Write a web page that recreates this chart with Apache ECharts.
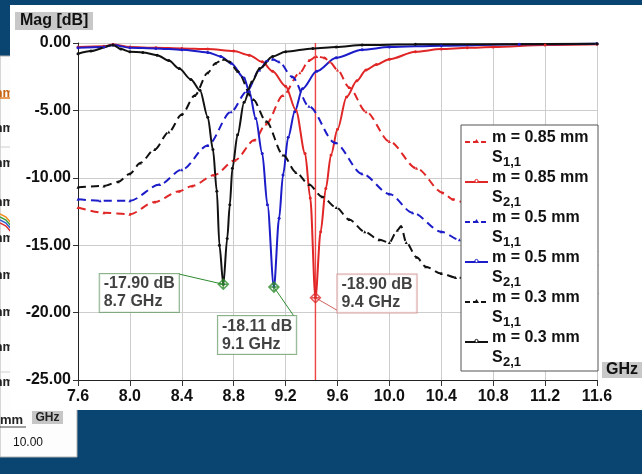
<!DOCTYPE html>
<html><head><meta charset="utf-8">
<script src="https://cdn.jsdelivr.net/npm/echarts@6/dist/echarts.min.js"></script>
<style>html,body{margin:0;padding:0;background:#0a4571;}#c{width:642px;height:474px;}</style>
</head><body><div id="c"></div>
<script>
// ---- data: [GHz, dB] ----
const s11_085 = [[7.6,-12.2],[7.8,-12.6],[8.0,-12.7],[8.19,-11.8],[8.38,-11.0],[8.48,-10.6],[8.65,-9.8],[8.81,-8.7],[8.96,-7.2],[9.05,-6.0],[9.18,-3.9],[9.31,-2.2],[9.38,-1.3],[9.44,-1.0],[9.5,-1.1],[9.54,-1.4],[9.6,-2.0],[9.69,-3.3],[9.82,-5.1],[10.0,-7.3],[10.21,-9.3],[10.41,-11.1],[10.49,-11.6],[10.8,-13.2],[11.2,-14.6],[11.6,-15.4]];
const s21_085 = [[7.6,-0.3],[7.8,-0.25],[7.87,-0.12],[8.0,-0.3],[8.2,-0.35],[8.4,-0.4],[8.6,-0.45],[8.8,-0.6],[8.92,-0.9],[9.02,-1.4],[9.1,-2.1],[9.2,-3.2],[9.28,-5.0],[9.35,-8.2],[9.39,-11.5],[9.43,-18.9],[9.47,-14.0],[9.51,-10.8],[9.55,-8.3],[9.6,-6.4],[9.67,-4.0],[9.75,-2.8],[9.82,-2.0],[9.9,-1.6],[10.0,-1.2],[10.2,-0.65],[10.4,-0.45],[10.6,-0.35],[10.8,-0.3],[11.2,-0.15],[11.6,-0.1]];
const s11_05 = [[7.6,-11.6],[7.77,-11.7],[8.0,-11.7],[8.23,-10.5],[8.4,-9.4],[8.6,-7.6],[8.78,-5.1],[8.9,-3.6],[9.0,-2.0],[9.06,-1.3],[9.1,-1.2],[9.15,-1.4],[9.25,-2.5],[9.38,-4.7],[9.58,-7.4],[9.79,-9.7],[10.0,-11.2],[10.18,-12.6],[10.4,-14.0],[10.54,-14.6],[11.0,-15.6],[11.6,-16.4]];
const s21_05 = [[7.6,-0.35],[7.8,-0.3],[7.87,-0.15],[8.0,-0.35],[8.2,-0.4],[8.4,-0.5],[8.6,-0.7],[8.7,-1.0],[8.78,-1.5],[8.88,-2.6],[8.92,-3.6],[8.97,-5.6],[9.02,-8.2],[9.06,-12.0],[9.11,-18.11],[9.15,-13.0],[9.18,-9.8],[9.22,-7.0],[9.27,-5.1],[9.33,-3.4],[9.44,-2.1],[9.59,-1.1],[9.79,-0.5],[10.0,-0.3],[10.4,-0.2],[11.0,-0.1],[11.6,-0.05]];
const s11_03 = [[7.6,-10.7],[7.8,-10.6],[7.91,-10.3],[8.0,-9.7],[8.08,-8.9],[8.19,-7.9],[8.3,-6.6],[8.4,-5.3],[8.5,-3.9],[8.6,-2.2],[8.66,-1.5],[8.72,-1.2],[8.77,-1.4],[8.83,-2.1],[8.95,-4.2],[9.05,-5.8],[9.18,-8.3],[9.28,-9.6],[9.38,-10.5],[9.48,-11.4],[9.59,-12.2],[9.69,-13.1],[9.81,-14.0],[9.92,-14.6],[10.0,-14.8],[10.06,-13.9],[10.09,-13.6],[10.13,-14.8],[10.21,-15.9],[10.28,-16.6],[10.4,-17.1],[10.51,-17.4],[11.0,-18.0],[11.6,-18.5]];
const s21_03 = [[7.6,-0.8],[7.7,-0.6],[7.87,-0.15],[7.93,-0.45],[8.0,-0.65],[8.1,-0.7],[8.21,-0.9],[8.3,-1.3],[8.38,-1.9],[8.47,-2.7],[8.54,-3.5],[8.6,-5.5],[8.64,-7.9],[8.67,-11.0],[8.69,-15.0],[8.72,-17.9],[8.75,-14.5],[8.77,-12.0],[8.79,-9.3],[8.83,-6.8],[8.88,-4.4],[8.94,-2.9],[9.0,-1.9],[9.1,-1.0],[9.2,-0.65],[9.41,-0.4],[9.59,-0.3],[9.79,-0.15],[10.2,-0.1],[11.6,-0.05]];
const markerPts = [[8.72,-17.90],[9.11,-18.11],[9.43,-18.90]];
const markerText = ['-17.90 dB\n8.7 GHz','-18.11 dB\n9.1 GHz','-18.90 dB\n9.4 GHz'];
const cursorLine = [[9.43,0],[9.43,-25]];
const legendNames = ['m = 0.85 mm','m = 0.85 mm','m = 0.5 mm','m = 0.5 mm','m = 0.3 mm','m = 0.3 mm'];
const legendSubs = ['1,1','2,1','1,1','2,1','1,1','2,1'];
const leftRows = [93,128,163,202,238,275,312,347,382];

const RED='#e02626', BLUE='#1c1cc8', BLACK='#111111', GREEN='#2e8b2e';
const FONT="'Liberation Sans', Arial, sans-serif";
const colors=[RED,RED,BLUE,BLUE,BLACK,BLACK];
const dashed=[true,false,true,false,true,false];
const seriesData=[s11_085,s21_085,s11_05,s21_05,s11_03,s21_03];

function ser(i){
  const c=colors[i], d=dashed[i];
  return {type:'line',data:seriesData[i],smooth:0.3,smoothMonotone:'x',
    symbol:d?'triangle':'circle',symbolSize:3,showSymbol:true,
    itemStyle:{color:c},lineStyle:{color:c,width:2,type:d?[8,5]:'solid'},z:3,silent:true};
}
const boxOff=[[-123.6,8.7],[-56,48],[22,-4.3]];
const boxBorder=['#6f9f6f','#6f9f6f','#d08a8a'];
const mkColor=[GREEN,GREEN,'#e03030'];

const chart=echarts.init(document.getElementById('c'),null,{renderer:'canvas'});
const series=[{type:'line',data:cursorLine,symbol:'none',silent:true,z:2,
  itemStyle:{color:'#f03030'},lineStyle:{color:'#f03030',width:1.4,opacity:0.9}}];
[0,1,2,3,4,5].forEach(i=>series.push(ser(i)));
series.push({type:'scatter',silent:true,z:5,
  symbol:'path://M5,0L10,5L5,10L0,5Z M5,0L5,10 M0,5L10,5',symbolSize:10,
  data:markerPts.map((p,i)=>({value:p,
    itemStyle:{color:'rgba(0,0,0,0)',borderColor:mkColor[i],borderWidth:1.5},
    label:{show:true,position:'inside',align:'left',verticalAlign:'middle',offset:boxOff[i],
      formatter:markerText[i],fontSize:16,fontWeight:'bold',fontFamily:FONT,color:'#111',
      lineHeight:18,backgroundColor:'#fff',borderColor:boxBorder[i],borderWidth:1,padding:[1,4,1,4]}}))
});

const g=[];
g.push({type:'rect',z:-30,shape:{x:0,y:56,width:77,height:401},style:{fill:'#fdfdfd',stroke:'#b0b0b0',lineWidth:1}});
leftRows.forEach((y,i)=>{
  g.push({type:'text',z:-29,x:14,y:y,style:{text:'mm',font:'bold 13px '+FONT,fill:i===0?'#c86414':'#222',align:'right',verticalAlign:'middle'}});
});
g.push({type:'line',z:-29,shape:{x1:0,y1:98,x2:12,y2:98},style:{stroke:'#e07820',lineWidth:1.5}});
g.push({type:'line',z:-29,shape:{x1:0,y1:147,x2:12,y2:147},style:{stroke:'#cfcfcf',lineWidth:1}});
g.push({type:'line',z:-29,shape:{x1:0,y1:372,x2:12,y2:372},style:{stroke:'#cfcfcf',lineWidth:1}});
['#f08a20','#3aa03a','#2c5cd0','#e03030'].forEach((c,i)=>{
  g.push({type:'polyline',z:-29,shape:{points:[[0,214+i*3],[6,217+i*3],[12,224+i*3]]},style:{stroke:c,lineWidth:1.5,fill:null}});
});
g.push({type:'text',z:-29,x:0,y:420,style:{text:'mm',font:'bold 13px '+FONT,fill:'#222',verticalAlign:'middle'}});
g.push({type:'line',z:-29,shape:{x1:0,y1:427,x2:26,y2:427},style:{stroke:'#444',lineWidth:1}});
g.push({type:'rect',z:-29,shape:{x:32,y:411,width:31,height:13},style:{fill:'#c6c6c6'}});
g.push({type:'text',z:-28,x:47.5,y:417.5,style:{text:'GHz',font:'bold 12px '+FONT,fill:'#222',align:'center',verticalAlign:'middle'}});
g.push({type:'text',z:-29,x:13,y:443,style:{text:'10.00',font:'12px '+FONT,fill:'#111',verticalAlign:'middle'}});
g.push({type:'rect',z:-20,shape:{x:10,y:5,width:632,height:405},style:{fill:'#ffffff'}});
g.push({type:'rect',z:-19,shape:{x:15,y:12,width:78,height:18},style:{fill:'#c8c8c8'}});
g.push({type:'text',z:-18,x:20,y:21,style:{text:'Mag [dB]',font:'bold 16px '+FONT,fill:'#111',verticalAlign:'middle'}});
g.push({type:'rect',z:-19,shape:{x:602,y:362,width:40,height:16},style:{fill:'#c8c8c8'}});
g.push({type:'text',z:-18,x:606,y:370,style:{text:'GHz',font:'bold 16px '+FONT,fill:'#111',verticalAlign:'middle'}});
g.push({type:'rect',z:50,shape:{x:461,y:125,width:137,height:246},style:{fill:'#fff',stroke:'#555',lineWidth:1}});
legendNames.forEach((nm,i)=>{
  const y0=138+40*i, c=colors[i];
  g.push({type:'line',z:51,shape:{x1:465,y1:y0+4,x2:488,y2:y0+4},style:{stroke:c,lineWidth:2,lineDash:dashed[i]?[5,3]:null}});
  if(dashed[i]) g.push({type:'polygon',z:52,shape:{points:[[476.5,y0+1],[479,y0+5],[474,y0+5]]},style:{fill:c}});
  else g.push({type:'circle',z:52,shape:{cx:476.5,cy:y0+3,r:1.6},style:{fill:'#fff',stroke:c,lineWidth:1}});
  g.push({type:'text',z:51,x:492,y:y0,style:{text:nm,font:'bold 16px '+FONT,fill:'#111',verticalAlign:'middle'}});
  g.push({type:'text',z:51,x:492,y:y0+20,style:{text:'S',font:'bold 16px '+FONT,fill:'#111',verticalAlign:'middle'}});
  g.push({type:'text',z:51,x:503,y:y0+24,style:{text:legendSubs[i],font:'bold 13px '+FONT,fill:'#111',verticalAlign:'middle'}});
});

chart.setOption({
  backgroundColor:'#0a4571',
  animation:false,
  grid:{left:78,right:45,top:43,bottom:94,containLabel:false},
  xAxis:{type:'value',min:7.6,max:11.6,interval:0.4,
    axisLine:{show:true,onZero:false,lineStyle:{color:'#222',width:1}},
    axisTick:{show:true,length:6,lineStyle:{color:'#333'}},
    splitLine:{show:true,lineStyle:{color:'#cdcdcd',width:1}},
    axisLabel:{margin:9,formatter:v=>v.toFixed(1),fontSize:16,fontWeight:'bold',fontFamily:FONT,color:'#111'}},
  yAxis:{type:'value',min:-25,max:0,interval:5,
    axisLine:{show:true,lineStyle:{color:'#222',width:1}},
    axisTick:{show:true,length:5,lineStyle:{color:'#333'}},
    splitLine:{show:true,lineStyle:{color:'#cdcdcd',width:1}},
    axisLabel:{margin:7,formatter:v=>v.toFixed(2),fontSize:16,fontWeight:'bold',fontFamily:FONT,color:'#111'}},
  series:series,
  graphic:{elements:g}
});

const px=markerPts.map(p=>chart.convertToPixel({gridIndex:0},p));
const boxW=79, boxH=38;
const b=px.map((p,i)=>({x:p[0]+boxOff[i][0],y:p[1]+boxOff[i][1]-boxH/2}));
const conn=[
  [[b[0].x+boxW,b[0].y],px[0],GREEN],
  [px[1],[b[1].x+boxW-3,b[1].y],GREEN],
  [px[2],[b[2].x,b[2].y+boxH-2],'#d06060']
];
chart.setOption({graphic:{elements:g.concat(conn.map(c=>({type:'line',z:4,shape:{x1:c[0][0],y1:c[0][1],x2:c[1][0],y2:c[1][1]},style:{stroke:c[2],lineWidth:1}})))}});
</script></body></html>
